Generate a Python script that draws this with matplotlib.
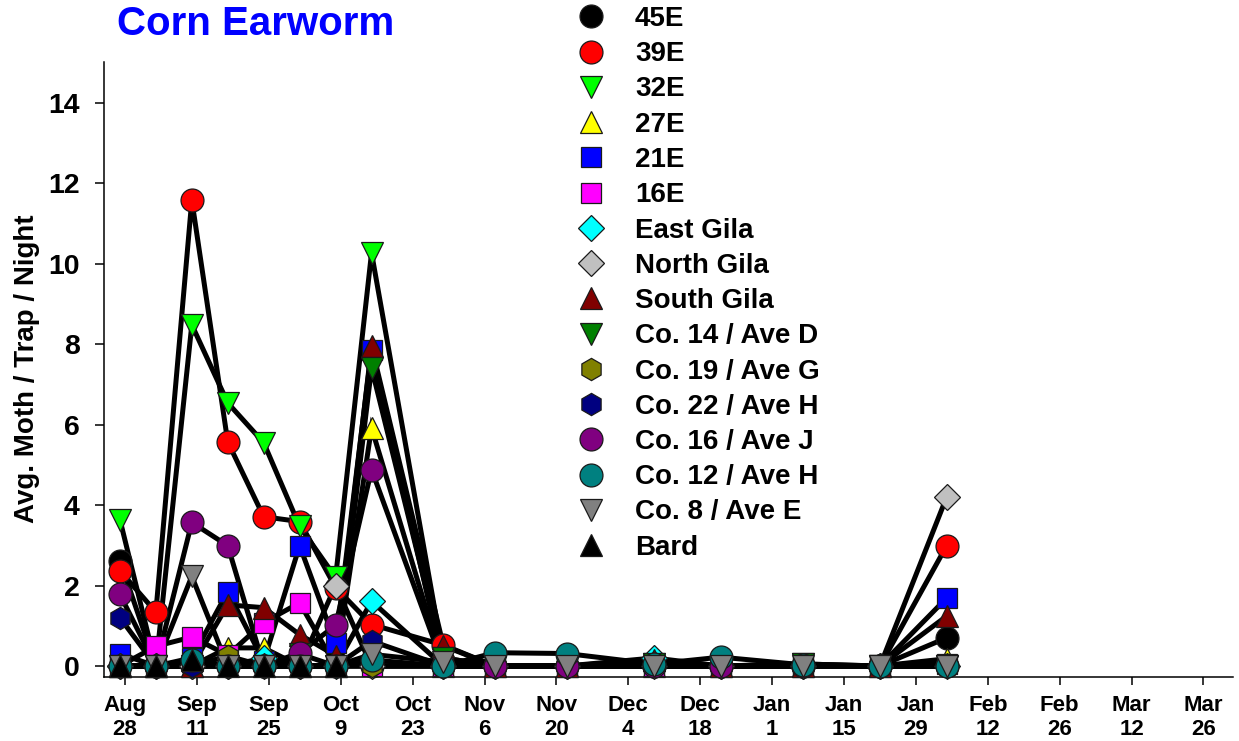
import matplotlib
matplotlib.use('Agg')
import matplotlib.pyplot as plt
import matplotlib.dates as mdates
from matplotlib.lines import Line2D
import datetime as dt
import numpy as np

plt.rcParams['font.family'] = ['Liberation Sans', 'DejaVu Sans']
plt.rcParams['font.weight'] = 'bold'

# ---------------- data ----------------
sample_dates = ["2021-08-27", "2021-09-03", "2021-09-10", "2021-09-17", "2021-09-24",
                "2021-10-01", "2021-10-08", "2021-10-15", "2021-10-29", "2021-11-08",
                "2021-11-22", "2021-12-09", "2021-12-22", "2022-01-07", "2022-01-22",
                "2022-02-04"]

s_45E = [2.62, 0, 0, 0, 0, 0, 0, 0, 0, 0, 0, 0, 0, 0, 0, 0.70]
s_39E = [2.37, 1.34, 11.58, 5.57, 3.71, 3.59, 1.95, 1.03, 0.52, 0, 0, 0, 0, 0, 0, 2.99]
s_32E = [3.64, 0, 8.48, 6.54, 5.55, 3.47, 2.2, 10.27, 0.2, 0, 0, 0.05, 0, 0.05, 0, 0]
s_27E = [0, 0, 0, 0.45, 0.45, 0, 0, 5.92, 0, 0, 0, 0, 0, 0, 0, 0.18]
s_21E = [0.3, 0, 0.2, 1.85, 0.12, 2.99, 0.56, 7.86, 0, 0, 0, 0, 0, 0, 0, 1.69]
s_16E = [0, 0.49, 0.72, 0.27, 1.08, 1.57, 0, 0, 0, 0, 0, 0, 0, 0, 0, 0.06]
s_east_gila = [0, 0, 0, 0, 0.2, 0, 0, 1.61, 0, 0, 0, 0.2, 0, 0, 0, 0]
s_north_gila = [0, 0, 0, 0, 0, 0, 2.0, 0, 0, 0, 0, 0, 0, 0, 0, 4.2]
s_south_gila = [0, 0, 0, 1.52, 1.45, 0.78, 0.26, 7.95, 0.5, 0, 0, 0.15, 0, 0, 0, 1.24]
s_co14 = [0, 0, 0, 0, 0, 0.3, 0, 7.41, 0.2, 0, 0, 0.05, 0, 0.05, 0, 0]
s_co19 = [0, 0, 0, 0.25, 0, 0, 0, 0, 0, 0, 0, 0, 0, 0, 0, 0]
s_co22 = [1.2, 0, 0, 0, 0, 0, 0, 0.62, 0, 0, 0, 0, 0, 0, 0, 0]
s_co16 = [1.78, 0, 3.57, 2.99, 0, 0.33, 1.01, 4.88, 0, 0, 0, 0, 0, 0, 0, 0]
s_co12 = [0, 0, 0.16, 0, 0, 0, 0, 0.15, 0, 0.33, 0.31, 0.05, 0.22, 0.03, 0, 0]
s_co8 = [0, 0, 2.23, 0, 0, 0, 0, 0.29, 0.1, 0, 0, 0, 0, 0, 0, 0]
s_bard = [0, 0, 0.15, 0, 0, 0, 0]

series_names = ["45E", "39E", "32E", "27E", "21E", "16E", "East Gila", "North Gila",
                "South Gila", "Co. 14 / Ave D", "Co. 19 / Ave G", "Co. 22 / Ave H",
                "Co. 16 / Ave J", "Co. 12 / Ave H", "Co. 8 / Ave E", "Bard"]
series_values = [s_45E, s_39E, s_32E, s_27E, s_21E, s_16E, s_east_gila, s_north_gila,
                 s_south_gila, s_co14, s_co19, s_co22, s_co16, s_co12, s_co8, s_bard]

tick_dates = ["2021-08-28", "2021-09-11", "2021-09-25", "2021-10-09", "2021-10-23",
              "2021-11-06", "2021-11-20", "2021-12-04", "2021-12-18", "2022-01-01",
              "2022-01-15", "2022-01-29", "2022-02-12", "2022-02-26", "2022-03-12",
              "2022-03-26"]
tick_labels = ["Aug\n28", "Sep\n11", "Sep\n25", "Oct\n9", "Oct\n23", "Nov\n6", "Nov\n20",
               "Dec\n4", "Dec\n18", "Jan\n1", "Jan\n15", "Jan\n29", "Feb\n12", "Feb\n26",
               "Mar\n12", "Mar\n26"]
y_ticks = [0, 2, 4, 6, 8, 10, 12, 14]

# ---------------- styles ----------------
markers = ['o', 'o', 'v', '^', 's', 's', 'D', 'D', '^', 'v', 'h', 'h', 'o', 'o', 'v', '^']
colors = ['#000000', '#FF0000', '#00FF00', '#FFFF00', '#0000FF', '#FF00FF', '#00FFFF',
          '#C0C0C0', '#800000', '#008000', '#808000', '#000080', '#800080', '#008080',
          '#808080', '#000000']
msize = {'o': 16.5, 'v': 16, '^': 16, 's': 15, 'D': 13, 'h': 16}

to_dt = lambda s: dt.datetime.strptime(s, "%Y-%m-%d")
xdates = [to_dt(s) for s in sample_dates]

fig = plt.figure(figsize=(12.39, 7.41), dpi=100)
ax = fig.add_axes([104 / 1239, 1 - 676.7 / 741, (1232.7 - 104) / 1239, (676.7 - 61.7) / 741])

# lines first
for vals in series_values:
    ax.plot(xdates[:len(vals)], vals, '-', color='black', lw=3.6, zorder=2,
            solid_capstyle='butt', solid_joinstyle='miter')

handles = []
for i, (vals, name) in enumerate(zip(series_values, series_names)):
    m = markers[i]
    ax.plot(xdates[:len(vals)], vals, ls='none', marker=m, ms=msize[m],
            mfc=colors[i], mec='#1a1a1a', mew=0.9, zorder=3 + i, clip_on=False)
    handles.append(Line2D([], [], ls='none', marker=m, ms=msize[m], mfc=colors[i],
                          mec='#1a1a1a', mew=0.9))

x0 = mdates.date2num(to_dt("2021-08-28"))
ax.set_xlim(x0 - 4.1, x0 + 215.7)
ax.set_ylim(-0.266, 15.02)

ax.set_xticks([mdates.date2num(to_dt(s)) for s in tick_dates])
ax.set_xticklabels(tick_labels, fontsize=16, fontweight='bold', linespacing=1.15)
ax.set_yticks(y_ticks)
ax.set_yticklabels([str(v) for v in y_ticks], fontsize=20.5, fontweight='bold')

ax.tick_params(axis='x', direction='out', length=6, width=1.1, pad=7.5)
ax.tick_params(axis='y', direction='out', length=6.5, width=1.1, pad=11)
for sp in ['top', 'right']:
    ax.spines[sp].set_visible(False)
for sp in ['left', 'bottom']:
    ax.spines[sp].set_linewidth(1.1)

ax.set_ylabel("Avg. Moth / Trap / Night", fontsize=20, fontweight='bold', labelpad=6)

fig.text(117 / 1239, 1 - 24 / 741, "Corn Earworm", color='#0000FF', fontsize=29,
         fontweight='bold', ha='left', va='center')

leg = ax.legend(handles, series_names, loc='upper left',
                bbox_to_anchor=(577 / 1239, 1 - 6 / 741), bbox_transform=fig.transFigure,
                frameon=False, borderpad=0, borderaxespad=0, handlelength=1.0,
                handletextpad=1.09, labelspacing=0.333, prop={'size': 20, 'weight': 'bold'})

fig.savefig("out.png", dpi=100)
